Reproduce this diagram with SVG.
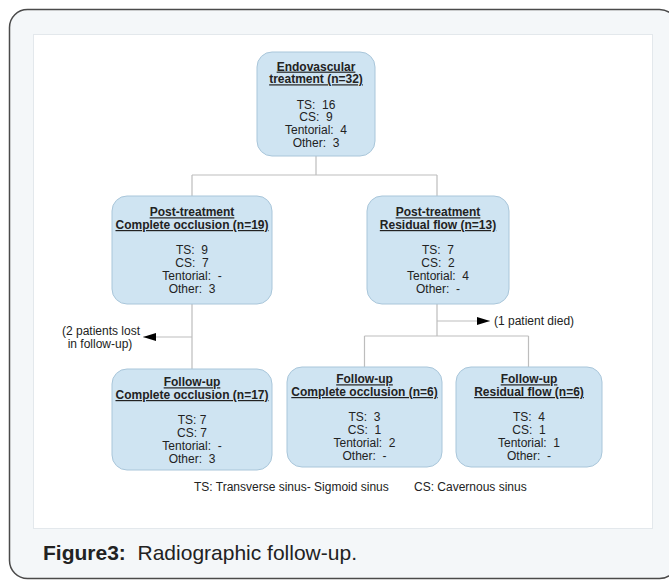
<svg xmlns="http://www.w3.org/2000/svg" width="669" height="581" viewBox="0 0 669 581">
<style>
.box{fill:#cfe4f2;stroke:#a9c6da;stroke-width:1}
.t{font-family:"Liberation Sans",Arial,sans-serif;font-size:12px;fill:#222;text-anchor:middle}
.h{font-weight:bold;text-decoration:underline}
.ln{stroke:#bdbdbd;stroke-width:1.2;fill:none}
.ann{font-family:"Liberation Sans",Arial,sans-serif;font-size:12px;fill:#222}
</style>
<defs>
<marker id="ah" viewBox="0 0 13 8" refX="13" refY="4" markerWidth="13" markerHeight="8" markerUnits="userSpaceOnUse" orient="auto">
<path d="M0,0 L13,4 L0,8 Z" fill="#000"/>
</marker>
</defs>
<rect x="9.5" y="9.5" width="668" height="569" rx="18" fill="#f4f7f9" stroke="#4a4a4a" stroke-width="1.5"/>
<rect x="33.5" y="34.5" width="619" height="494" fill="#ffffff" stroke="#e3e8ec" stroke-width="1"/>

<g id="connectors">
<path class="ln" d="M316,156 V175 M192,175 H437 M192,175 V196 M437,175 V196"/>
<path class="ln" d="M192,304 V369"/>
<path class="ln" d="M192,337 H143" marker-end="url(#ah)"/>
<path class="ln" d="M437,304 V336 M364.5,336 H528.5 M364.5,336 V367 M528.5,336 V367"/>
<path class="ln" d="M437,321 H490" marker-end="url(#ah)"/>
</g>

<g id="n-endo">
<rect class="box" x="257" y="52" width="118" height="104" rx="15"/>
<text class="t h" x="316" y="70.6">Endovascular</text>
<text class="t h" x="316" y="83.3">treatment (n=32)</text>
<text class="t" x="316" y="108.7" xml:space="preserve">TS:  16</text>
<text class="t" x="316" y="121.4" xml:space="preserve">CS:  9</text>
<text class="t" x="316" y="134.1" xml:space="preserve">Tentorial:  4</text>
<text class="t" x="316" y="146.8" xml:space="preserve">Other:  3</text>
</g>

<g id="n-post-co">
<rect class="box" x="112" y="196" width="160" height="108" rx="15"/>
<text class="t h" x="192" y="216.3">Post-treatment</text>
<text class="t h" x="192" y="229">Complete occlusion (n=19)</text>
<text class="t" x="192" y="254.4" xml:space="preserve">TS:  9</text>
<text class="t" x="192" y="267.1" xml:space="preserve">CS:  7</text>
<text class="t" x="192" y="279.8" xml:space="preserve">Tentorial:  -</text>
<text class="t" x="192" y="292.5" xml:space="preserve">Other:  3</text>
</g>

<g id="n-post-rf">
<rect class="box" x="367" y="196" width="142" height="108" rx="15"/>
<text class="t h" x="438" y="216.3">Post-treatment</text>
<text class="t h" x="438" y="229">Residual flow (n=13)</text>
<text class="t" x="438" y="254.4" xml:space="preserve">TS:  7</text>
<text class="t" x="438" y="267.1" xml:space="preserve">CS:  2</text>
<text class="t" x="438" y="279.8" xml:space="preserve">Tentorial:  4</text>
<text class="t" x="438" y="292.5" xml:space="preserve">Other:  -</text>
</g>

<g id="ann-lost">
<text class="t" x="101" y="335">(2 patients lost</text>
<text class="t" x="100" y="347.5">in follow-up)</text>
</g>
<g id="ann-died">
<text class="ann" x="494" y="325">(1 patient died)</text>
</g>

<g id="n-fu-co17">
<rect class="box" x="112" y="369" width="160" height="101" rx="15"/>
<text class="t h" x="192" y="386.3">Follow-up</text>
<text class="t h" x="192" y="399">Complete occlusion (n=17)</text>
<text class="t" x="192" y="424.4">TS: 7</text>
<text class="t" x="192" y="437.1">CS: 7</text>
<text class="t" x="192" y="449.8" xml:space="preserve">Tentorial:  -</text>
<text class="t" x="192" y="462.5" xml:space="preserve">Other:  3</text>
</g>

<g id="n-fu-co6">
<rect class="box" x="287" y="367" width="155" height="100" rx="15"/>
<text class="t h" x="364.5" y="383.3">Follow-up</text>
<text class="t h" x="364.5" y="396">Complete occlusion (n=6)</text>
<text class="t" x="364.5" y="421.4" xml:space="preserve">TS:  3</text>
<text class="t" x="364.5" y="434.1" xml:space="preserve">CS:  1</text>
<text class="t" x="364.5" y="446.8" xml:space="preserve">Tentorial:  2</text>
<text class="t" x="364.5" y="459.5" xml:space="preserve">Other:  -</text>
</g>

<g id="n-fu-rf6">
<rect class="box" x="456" y="367" width="146" height="100" rx="15"/>
<text class="t h" x="529" y="383.3">Follow-up</text>
<text class="t h" x="529" y="396">Residual flow (n=6)</text>
<text class="t" x="529" y="421.4" xml:space="preserve">TS:  4</text>
<text class="t" x="529" y="434.1" xml:space="preserve">CS:  1</text>
<text class="t" x="529" y="446.8" xml:space="preserve">Tentorial:  1</text>
<text class="t" x="529" y="459.5" xml:space="preserve">Other:  -</text>
</g>

<g id="legend">
<text class="ann" x="194" y="491">TS: Transverse sinus- Sigmoid sinus</text>
<text class="ann" x="414" y="491">CS: Cavernous sinus</text>
</g>

<text x="43" y="560" font-family="'Liberation Sans',Arial,sans-serif" font-size="21" fill="#222" xml:space="preserve"><tspan font-weight="bold">Figure3:</tspan>  Radiographic follow-up.</text>
</svg>
